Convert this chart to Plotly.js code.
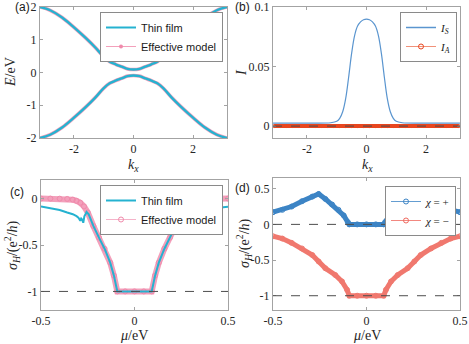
<!DOCTYPE html>
<html>
<head>
<meta charset="utf-8">
<script src="https://cdn.plot.ly/plotly-3.0.1.min.js"></script>
<style>
  html, body { margin: 0; padding: 0; background: #fff; }
  #chart { width: 469px; height: 344px; }
</style>
</head>
<body>
<div id="chart"></div>
<script>
// (a) band structure
const kxBand = [-3.14, -2.8, -2.4, -2.0, -1.6, -1.3, -1.0, -0.8, -0.6, -0.4, -0.2, 0, 0.2, 0.4, 0.6, 0.8, 1.0, 1.3, 1.6, 2.0, 2.4, 2.8, 3.14];
const upperBand = [2.0, 1.9, 1.68, 1.38, 1.05, 0.78, 0.48, 0.33, 0.25, 0.18, 0.11, 0.09, 0.11, 0.18, 0.25, 0.33, 0.48, 0.78, 1.05, 1.38, 1.68, 1.9, 2.0];
const lowerBand = [-2.0, -1.9, -1.68, -1.38, -1.05, -0.78, -0.48, -0.33, -0.25, -0.18, -0.11, -0.09, -0.11, -0.18, -0.25, -0.33, -0.48, -0.78, -1.05, -1.38, -1.68, -1.9, -2.0];

// (b) I_S and I_A
const kxI = [-3.14, -2.0, -1.2, -1.0, -0.9, -0.8, -0.7, -0.6, -0.5, -0.4, -0.3, -0.2, -0.1, 0, 0.1, 0.2, 0.3, 0.4, 0.5, 0.6, 0.7, 0.8, 0.9, 1.0, 1.2, 2.0, 3.14];
const iS = [0.0025, 0.0025, 0.0028, 0.004, 0.0065, 0.012, 0.023, 0.041, 0.061, 0.076, 0.084, 0.0875, 0.0893, 0.0898, 0.0893, 0.0875, 0.084, 0.076, 0.061, 0.041, 0.023, 0.012, 0.0065, 0.004, 0.0028, 0.0025, 0.0025];
const kxA = [-3.1, -2.9, -2.7, -2.5, -2.3, -2.1, -1.9, -1.7, -1.5, -1.3, -1.1, -0.9, -0.7, -0.5, -0.3, -0.1, 0.1, 0.3, 0.5, 0.7, 0.9, 1.1, 1.3, 1.5, 1.7, 1.9, 2.1, 2.3, 2.5, 2.7, 2.9, 3.1];
const iA = [0, 0, 0, 0, 0, 0, 0, 0, 0, 0, 0, 0, 0, 0, 0, 0, 0, 0, 0, 0, 0, 0, 0, 0, 0, 0, 0, 0, 0, 0, 0, 0];

// (c) Hall conductance, thin film vs effective model
const muEff = [-0.5, -0.45, -0.4, -0.36, -0.33, -0.31, -0.29, -0.27, -0.25, -0.22, -0.19, -0.16, -0.13, -0.11, -0.092, -0.05, 0, 0.05, 0.092, 0.11, 0.13, 0.16, 0.19, 0.22, 0.25, 0.27, 0.29, 0.31, 0.33, 0.36, 0.4, 0.45, 0.5];
const sigEff = [0, 0, -0.001, -0.004, -0.012, -0.025, -0.045, -0.085, -0.15, -0.295, -0.42, -0.54, -0.69, -0.83, -1.0, -1.0, -1.0, -1.0, -1.0, -0.83, -0.69, -0.54, -0.42, -0.295, -0.15, -0.085, -0.045, -0.025, -0.012, -0.004, -0.001, 0, 0];
const muFilm = [-0.5, -0.45, -0.4, -0.36, -0.33, -0.31, -0.3, -0.29, -0.285, -0.28, -0.274, -0.268, -0.256, -0.245, -0.22, -0.19, -0.16, -0.13, -0.11, -0.092, 0, 0.092, 0.11, 0.13, 0.16, 0.19, 0.22, 0.24, 0.25, 0.26, 0.265, 0.27, 0.275, 0.285, 0.3, 0.33, 0.36, 0.4, 0.45, 0.5];
const sigFilm = [-0.086, -0.104, -0.123, -0.15, -0.168, -0.19, -0.205, -0.24, -0.215, -0.225, -0.26, -0.19, -0.145, -0.17, -0.295, -0.42, -0.54, -0.69, -0.83, -1.0, -1.0, -1.0, -0.83, -0.69, -0.54, -0.42, -0.295, -0.17, -0.14, -0.17, -0.23, -0.25, -0.2, -0.185, -0.17, -0.15, -0.135, -0.12, -0.1, -0.088];

// (d) chirality resolved
const muPlus = [-0.5, -0.45, -0.4, -0.345, -0.29, -0.256, -0.22, -0.184, -0.15, -0.122, -0.1, -0.092, -0.05, 0, 0.05, 0.092, 0.1, 0.122, 0.15, 0.184, 0.22, 0.256, 0.29, 0.345, 0.4, 0.45, 0.5];
const sigPlus = [0.171, 0.204, 0.25, 0.324, 0.389, 0.426, 0.356, 0.278, 0.204, 0.125, 0.032, 0, 0, 0, 0, 0, 0.032, 0.125, 0.204, 0.278, 0.356, 0.426, 0.389, 0.324, 0.25, 0.204, 0.171];
const muMinus = [-0.5, -0.45, -0.4, -0.345, -0.29, -0.256, -0.22, -0.167, -0.131, -0.104, -0.092, -0.05, 0, 0.05, 0.092, 0.104, 0.131, 0.167, 0.22, 0.256, 0.29, 0.345, 0.4, 0.45, 0.5];
const sigMinus = [-0.167, -0.199, -0.259, -0.338, -0.43, -0.52, -0.615, -0.71, -0.8, -0.917, -1.0, -1.0, -1.0, -1.0, -1.0, -0.917, -0.8, -0.71, -0.615, -0.52, -0.43, -0.338, -0.259, -0.199, -0.167];

// tick labels (plain hyphen like the original)
const kTicks = [-2, 0, 2], kTickText = ['-2', '0', '2'];
const eTicks = [-2, -1, 0, 1, 2], eTickText = ['-2', '-1', '0', '1', '2'];
const iTicks = [0, 0.05, 0.1], iTickText = ['0', '0.05', '0.1'];
const muTicks = [-0.5, 0, 0.5], muTickText = ['-0.5', '0', '0.5'];
const cTicks = [-1, -0.5, 0], cTickText = ['-1', '-0.5', '0'];
const dTicks = [-1, -0.5, 0, 0.5], dTickText = ['-1', '-0.5', '0', '0.5'];

const W = 469, H = 344;
const CYAN = '#25b2d0', PINK = '#f3a0bb', PINK_DARK = '#f08aab';
const BLUE = '#3c84c5', RED = '#ef6a5f', ORANGE = '#e8461f', SBLUE = '#5a95cf';
const SERIF = "'Liberation Serif', 'Times New Roman', serif";
const SANS = "'Liberation Sans', Arial, sans-serif";

function px(x) { return x / W; }
function py(y) { return 1 - y / H; }

function axis(domain, range, tickvals, ticktext, anchor) {
    return {
        domain: domain, range: range, anchor: anchor,
        tickvals: tickvals, ticktext: ticktext,
        showline: true, mirror: 'ticks', linecolor: '#a3a3a3', linewidth: 1,
        ticks: 'inside', ticklen: 3, tickcolor: '#a3a3a3',
        showgrid: false, zeroline: false,
        tickfont: { family: SERIF, size: 12, color: '#262626' }
    };
}

function dashed(xref, yref, x0, x1, y) {
    return {
        type: 'line', xref: xref, yref: yref, x0: x0, x1: x1, y0: y, y1: y,
        layer: 'above', line: { color: '#4d4d4d', width: 1, dash: 'dash' }
    };
}

function label(text, x, y, opts) {
    return Object.assign({
        text: text, xref: 'paper', yref: 'paper', x: px(x), y: py(y),
        showarrow: false, xanchor: 'center', yanchor: 'middle',
        font: { family: SERIF, size: 14, color: '#262626' }
    }, opts || {});
}

function legendBox(x, y, family) {
    return {
        x: px(x), y: py(y), xanchor: 'right', yanchor: 'top',
        bgcolor: '#fff', bordercolor: '#8a8a8a', borderwidth: 1,
        font: { family: family || SANS, size: 11, color: '#1a1a1a' },
        tracegroupgap: 0, itemwidth: 30
    };
}

// legend-only entry, so the key keeps thin lines like the original
function key(name, legend, line, marker) {
    return { x: [null], y: [null], xaxis: legend.xa, yaxis: legend.ya, name: name, legend: legend.id,
             mode: marker ? 'lines+markers' : 'lines', line: line, marker: marker || {} };
}

const LA = { id: 'legend', xa: 'x', ya: 'y' }, LB = { id: 'legend2', xa: 'x2', ya: 'y2' };
const LC = { id: 'legend3', xa: 'x3', ya: 'y3' }, LD = { id: 'legend4', xa: 'x4', ya: 'y4' };

const traces = [
    // (a)
    { x: kxBand, y: upperBand, xaxis: 'x', yaxis: 'y', mode: 'lines', showlegend: false,
      line: { color: PINK, width: 3.6, shape: 'spline' } },
    { x: kxBand, y: lowerBand, xaxis: 'x', yaxis: 'y', mode: 'lines', showlegend: false,
      line: { color: PINK, width: 3.6, shape: 'spline' } },
    { x: kxBand, y: upperBand, xaxis: 'x', yaxis: 'y', mode: 'lines', showlegend: false,
      line: { color: CYAN, width: 2.4, shape: 'spline' } },
    { x: kxBand, y: lowerBand, xaxis: 'x', yaxis: 'y', mode: 'lines', showlegend: false,
      line: { color: CYAN, width: 2.4, shape: 'spline' } },
    key('Thin film', LA, { color: CYAN, width: 2 }),
    key('Effective model', LA, { color: PINK, width: 1 }, { color: PINK_DARK, size: 4 }),
    // (b)
    { x: kxI, y: iS, xaxis: 'x2', yaxis: 'y2', mode: 'lines', showlegend: false,
      line: { color: SBLUE, width: 1.2, shape: 'spline' } },
    { x: kxA, y: iA, xaxis: 'x2', yaxis: 'y2', mode: 'lines+markers', showlegend: false,
      line: { color: ORANGE, width: 4 }, marker: { symbol: 'circle-open', size: 3, color: ORANGE, line: { width: 1 } } },
    key('<i>I<sub>S</sub></i>', LB, { color: SBLUE, width: 1.5 }),
    key('<i>I<sub>A</sub></i>', LB, { color: ORANGE, width: 0.6 }, { symbol: 'circle-open', size: 5, color: ORANGE, line: { width: 1 } }),
    // (c)
    { x: muEff, y: sigEff, xaxis: 'x3', yaxis: 'y3', mode: 'lines+markers', showlegend: false,
      line: { color: PINK, width: 6 }, marker: { symbol: 'circle-open', size: 5, color: PINK_DARK, line: { width: 1 } } },
    { x: muFilm, y: sigFilm, xaxis: 'x3', yaxis: 'y3', mode: 'lines', showlegend: false,
      line: { color: CYAN, width: 2 } },
    key('Thin film', LC, { color: CYAN, width: 2 }),
    key('Effective model', LC, { color: PINK, width: 0.8 }, { symbol: 'circle-open', size: 5, color: PINK_DARK, line: { width: 1 } }),
    // (d)
    { x: muPlus, y: sigPlus, xaxis: 'x4', yaxis: 'y4', mode: 'lines+markers', showlegend: false,
      line: { color: BLUE, width: 5 }, marker: { symbol: 'circle-open', size: 5, color: BLUE, line: { width: 1 } } },
    { x: muMinus, y: sigMinus, xaxis: 'x4', yaxis: 'y4', mode: 'lines+markers', showlegend: false, opacity: 0.9,
      line: { color: RED, width: 5 }, marker: { symbol: 'circle-open', size: 5, color: RED, line: { width: 1 } } },
    key('<i>χ</i> = +', LD, { color: BLUE, width: 0.8 }, { symbol: 'circle-open', size: 5, color: BLUE, line: { width: 1 } }),
    key('<i>χ</i> = −', LD, { color: RED, width: 0.8 }, { symbol: 'circle-open', size: 5, color: RED, line: { width: 1 } })
];

const layout = {
    width: W, height: H,
    margin: { l: 0, r: 0, t: 0, b: 0 },
    paper_bgcolor: '#fff', plot_bgcolor: '#fff',
    hovermode: false,
    xaxis: axis([px(40), px(227)], [-3.1416, 3.1416], kTicks, kTickText, 'y'),
    yaxis: axis([py(138), py(7)], [-2, 2], eTicks, eTickText, 'x'),
    xaxis2: axis([px(273), px(460)], [-3.1416, 3.1416], kTicks, kTickText, 'y2'),
    yaxis2: axis([py(138), py(7)], [-0.01, 0.1], iTicks, iTickText, 'x2'),
    xaxis3: axis([px(41), px(228)], [-0.5, 0.5], muTicks, muTickText, 'y3'),
    yaxis3: axis([py(310), py(180)], [-1.2, 0.2], cTicks, cTickText, 'x3'),
    xaxis4: axis([px(273), px(460)], [-0.5, 0.5], muTicks, muTickText, 'y4'),
    yaxis4: axis([py(310), py(178)], [-1.2, 0.65], dTicks, dTickText, 'x4'),
    legend: legendBox(223, 12),
    legend2: legendBox(457, 12, SERIF),
    legend3: legendBox(223, 185),
    legend4: legendBox(456, 186, SERIF),
    shapes: [
        dashed('x2', 'y2', -3.1416, 3.1416, 0),
        dashed('x3', 'y3', -0.5, 0.5, -1),
        dashed('x4', 'y4', -0.5, 0.5, 0),
        dashed('x4', 'y4', -0.5, 0.5, -1)
    ],
    annotations: [
        label('(a)', 22, 7, { font: { family: SANS, size: 12, color: '#1a1a1a' } }),
        label('(b)', 243, 7, { font: { family: SANS, size: 12, color: '#1a1a1a' } }),
        label('(c)', 17, 192, { font: { family: SANS, size: 12, color: '#1a1a1a' } }),
        label('(d)', 243, 188, { font: { family: SANS, size: 12, color: '#1a1a1a' } }),
        label('<i>k<sub>x</sub></i>', 133, 165),
        label('<i>k<sub>x</sub></i>', 367, 165),
        label('<i>μ</i>/eV', 134, 335),
        label('<i>μ</i>/eV', 367, 335),
        label('<i>E</i>/eV', 10, 72, { textangle: -90 }),
        label('<i>I</i>', 241, 72, { textangle: -90 }),
        label('<i>σ<sub>H</sub></i>/(e<sup>2</sup>/<i>h</i>)', 12, 245, { textangle: -90 }),
        label('<i>σ<sub>H</sub></i>/(e<sup>2</sup>/<i>h</i>)', 244, 243, { textangle: -90 })
    ]
};

Plotly.newPlot('chart', traces, layout, { staticPlot: true, displayModeBar: false });
</script>
</body>
</html>
